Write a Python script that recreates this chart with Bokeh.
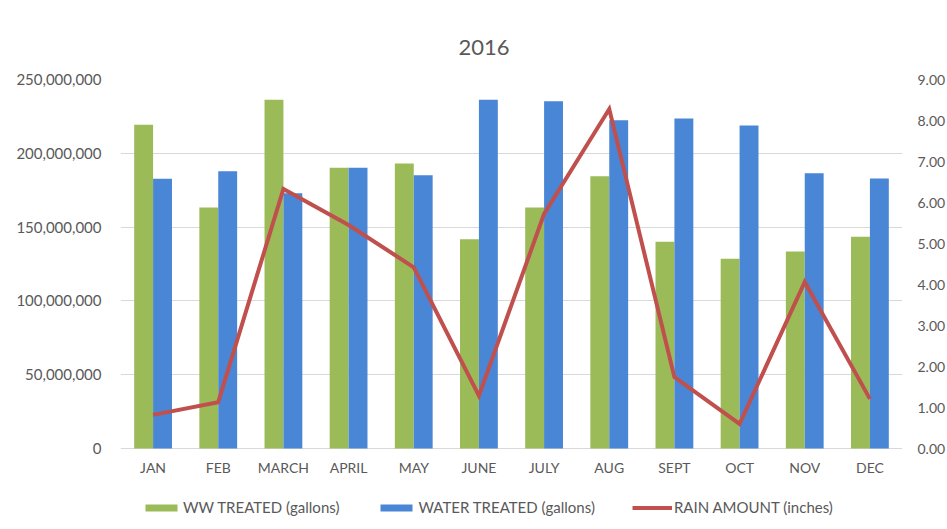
from bokeh.plotting import figure
from bokeh.models import (Range1d, LinearAxis, FixedTicker, NumeralTickFormatter,
                          Legend, LegendItem, ColumnDataSource, Title)
from bokeh.core.properties import value
from bokeh.transform import dodge
from bokeh.embed import file_html
from bokeh.resources import INLINE

months = ["JAN", "FEB", "MARCH", "APRIL", "MAY", "JUNE", "JULY", "AUG", "SEPT", "OCT", "NOV", "DEC"]
ww_treated = [219300000, 163300000, 236200000, 190200000, 193100000, 141800000,
              163300000, 184500000, 140000000, 128500000, 133500000, 143400000]
water_treated = [182700000, 187900000, 173000000, 190200000, 185200000, 236200000,
                 235300000, 222400000, 223600000, 218800000, 186500000, 182900000]
rain_inches = [0.82, 1.13, 6.33, 5.45, 4.42, 1.29, 5.72, 8.28, 1.74, 0.60, 4.06, 1.21]
left_ticks = [0, 50000000, 100000000, 150000000, 200000000, 250000000]
right_ticks = [0, 1, 2, 3, 4, 5, 6, 7, 8, 9]

GREEN = "#9BBB59"
BLUE = "#4A86D6"
RED = "#C0504D"
TXT = "#595959"
GRID = "#D9D9D9"
FONT = "Lato"

LEFT_MAX = left_ticks[-1]
RIGHT_MAX = right_ticks[-1]
# frame extends below zero to hold the category labels and legend
BELOW_FRAC = 73.0 / 369.0
LABEL_FRAC = 19.0 / 369.0

idx = list(range(len(months)))
src = ColumnDataSource(dict(x=idx, month=months, ww=ww_treated, water=water_treated, rain=rain_inches,
                            label_y=[-LABEL_FRAC * LEFT_MAX] * len(months)))

p = figure(frame_width=782, frame_height=442, x_range=Range1d(-0.5, len(months) - 0.5),
           y_range=Range1d(-BELOW_FRAC * LEFT_MAX, LEFT_MAX),
           output_backend="svg", toolbar_location=None,
           min_border_left=120, min_border_right=5, min_border_top=79, min_border_bottom=0)
p.extra_y_ranges = {"rain": Range1d(-BELOW_FRAC * RIGHT_MAX, RIGHT_MAX)}

g = p.vbar(x=dodge("x", -0.145), top="ww", width=0.29, source=src,
           fill_color=GREEN, line_color=None)
b = p.vbar(x=dodge("x", 0.145), top="water", width=0.29, source=src,
           fill_color=BLUE, line_color=None)
r = p.line(x="x", y="rain", source=src, y_range_name="rain", line_color=RED, line_width=4,
           line_join="miter")
p.text(x="x", y="label_y", text="month", source=src, text_font=value(FONT),
       text_font_size="14px", text_color=TXT, text_align="center", text_baseline="middle")

p.title = Title(text="2016", align="left", text_font=FONT, text_font_size="22px",
                text_font_style="normal", text_color=TXT, offset=338, standoff=49)

p.outline_line_color = None
p.background_fill_color = "white"
p.xgrid.grid_line_color = None
p.ygrid.grid_line_color = GRID
p.ygrid.ticker = FixedTicker(ticks=left_ticks)
p.xaxis.visible = False

yl = p.yaxis[0]
yl.ticker = FixedTicker(ticks=left_ticks)
yl.formatter = NumeralTickFormatter(format="0,0")
yl.axis_line_color = None
yl.major_tick_line_color = None
yl.minor_tick_line_color = None
yl.major_label_text_font = FONT
yl.major_label_text_font_size = "15px"
yl.major_label_text_color = TXT
yl.major_label_standoff = 13

yr = LinearAxis(y_range_name="rain", ticker=FixedTicker(ticks=right_ticks),
                formatter=NumeralTickFormatter(format="0.00"))
yr.axis_line_color = None
yr.major_tick_line_color = None
yr.minor_tick_line_color = None
yr.major_label_text_font = FONT
yr.major_label_text_font_size = "14px"
yr.major_label_text_color = TXT
yr.major_label_standoff = 9
p.add_layout(yr, "right")

legend = Legend(items=[LegendItem(label="WW TREATED (gallons)", renderers=[g]),
                       LegendItem(label="WATER TREATED (gallons)", renderers=[b]),
                       LegendItem(label="RAIN AMOUNT (inches)", renderers=[r])],
                orientation="horizontal", location=(21, 5),
                glyph_width=40, glyph_height=9, label_text_font=FONT, label_text_font_size="15px",
                label_text_color=TXT, spacing=37, label_standoff=2,
                border_line_color=None, background_fill_alpha=0, padding=0, margin=0)
p.add_layout(legend, "center")

open("out.html", "w").write(file_html(p, INLINE))
